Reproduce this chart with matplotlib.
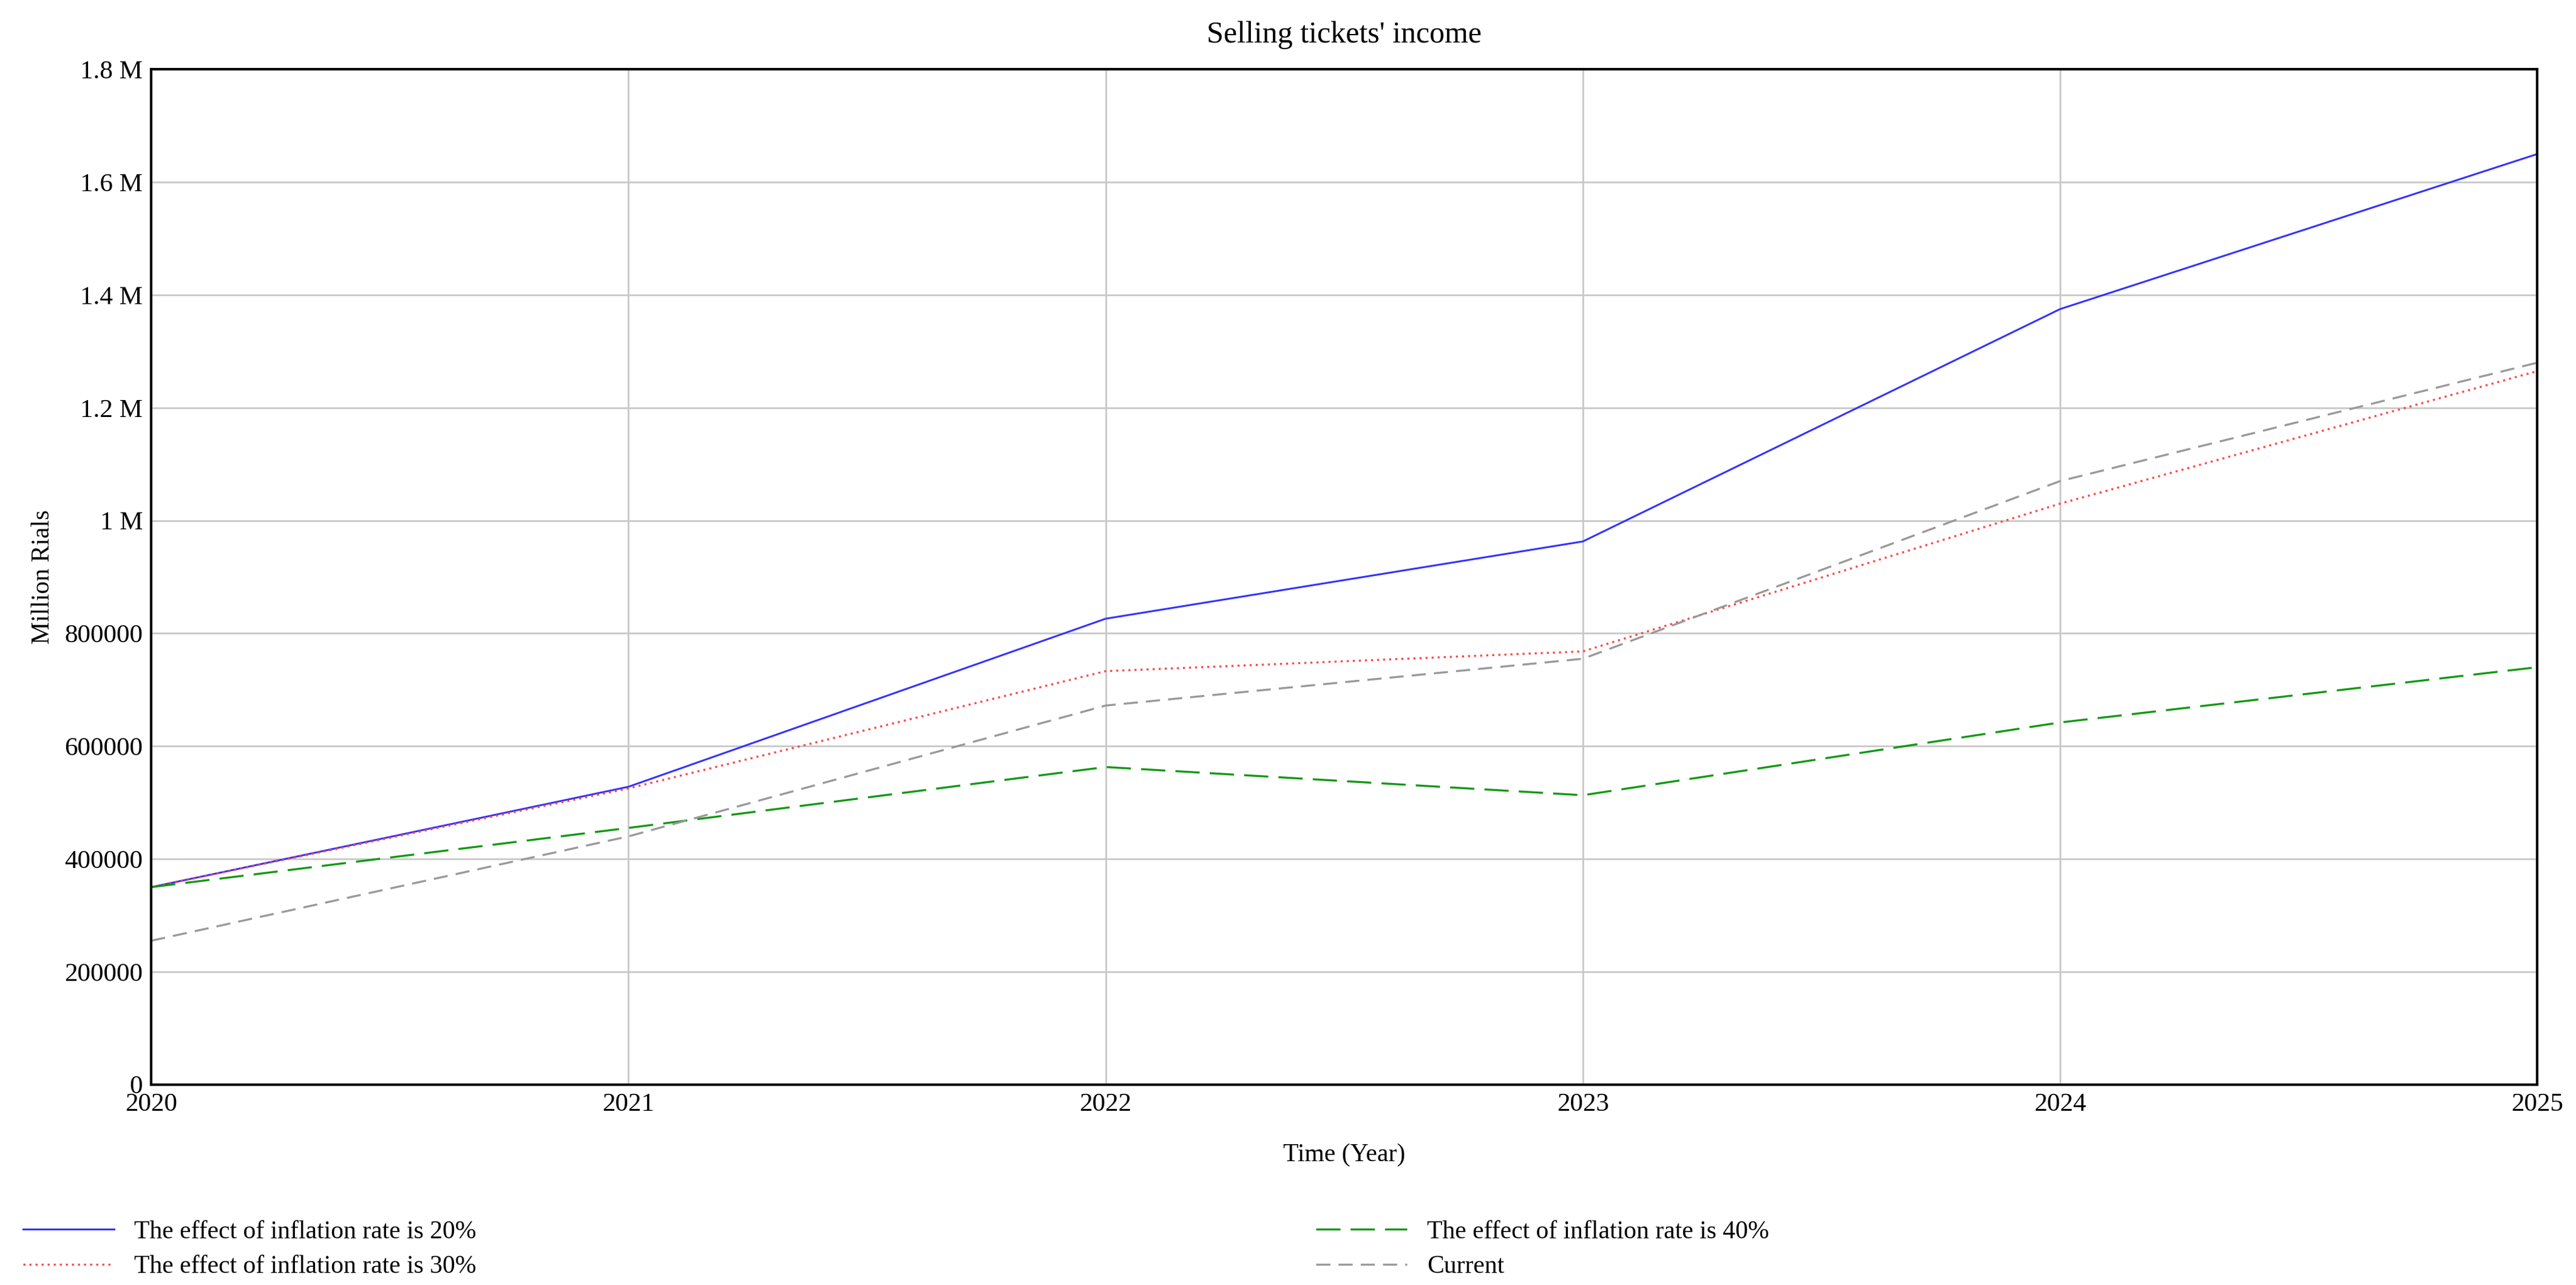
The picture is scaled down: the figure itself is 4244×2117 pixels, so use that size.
import matplotlib
matplotlib.use("Agg")
import matplotlib.pyplot as plt
from matplotlib.ticker import FuncFormatter

years = [2020, 2021, 2022, 2023, 2024, 2025]
inf20 = [350000, 528000, 826000, 963000, 1375000, 1650000]
inf30 = [350000, 525000, 733000, 768000, 1030000, 1265000]
inf40 = [350000, 455000, 563000, 513000, 642000, 740000]
current = [255000, 440000, 672000, 755000, 1070000, 1280000]

plt.rcParams['font.family'] = ['Liberation Serif', 'DejaVu Serif']
fig = plt.figure(figsize=(42.44, 21.17), dpi=100)
ax = fig.add_axes([0.0587, 0.156, 0.9263, 0.79])

l1, = ax.plot(years, inf20, color='#3333ff', lw=2.2, label='The effect of inflation rate is 20%')
l2, = ax.plot(years, inf30, color='#ff4444', lw=2.4, ls=(0, (1, 2)), label='The effect of inflation rate is 30%')
l3, = ax.plot(years, inf40, color='#119911', lw=2.4, ls=(0, (12, 5)), label='The effect of inflation rate is 40%')
l4, = ax.plot(years, current, color='#999999', lw=2.4, ls=(0, (7, 4)), label='Current')

ax.set_xlim(2020, 2025)
ax.set_ylim(0, 1800000)
ax.set_xticks(years)
ax.set_yticks(range(0, 1800001, 200000))

def fmt(v, p):
    if v >= 1000000:
        s = ('%.1f' % (v / 1e6)).rstrip('0').rstrip('.')
        return s + ' M'
    return '%d' % v
ax.yaxis.set_major_formatter(FuncFormatter(fmt))
ax.grid(True, color='#c8c8c8', lw=2)
for s in ax.spines.values():
    s.set_linewidth(3)
ax.tick_params(labelsize=31, length=0, pad=10)
ax.set_title("Selling tickets' income", fontsize=36, pad=32)
ax.set_xlabel('Time (Year)', fontsize=30, labelpad=32)
ax.set_ylabel('Million Rials', fontsize=30, labelpad=12)

leg1 = fig.legend(handles=[l1, l2], loc='upper left', bbox_to_anchor=(0.0, 0.068),
                  frameon=False, fontsize=30, handlelength=3.6, labelspacing=0.45)
leg2 = fig.legend(handles=[l3, l4], loc='upper left', bbox_to_anchor=(0.502, 0.068),
                  frameon=False, fontsize=30, handlelength=3.6, labelspacing=0.45)
fig.savefig('out.png', dpi=100)
